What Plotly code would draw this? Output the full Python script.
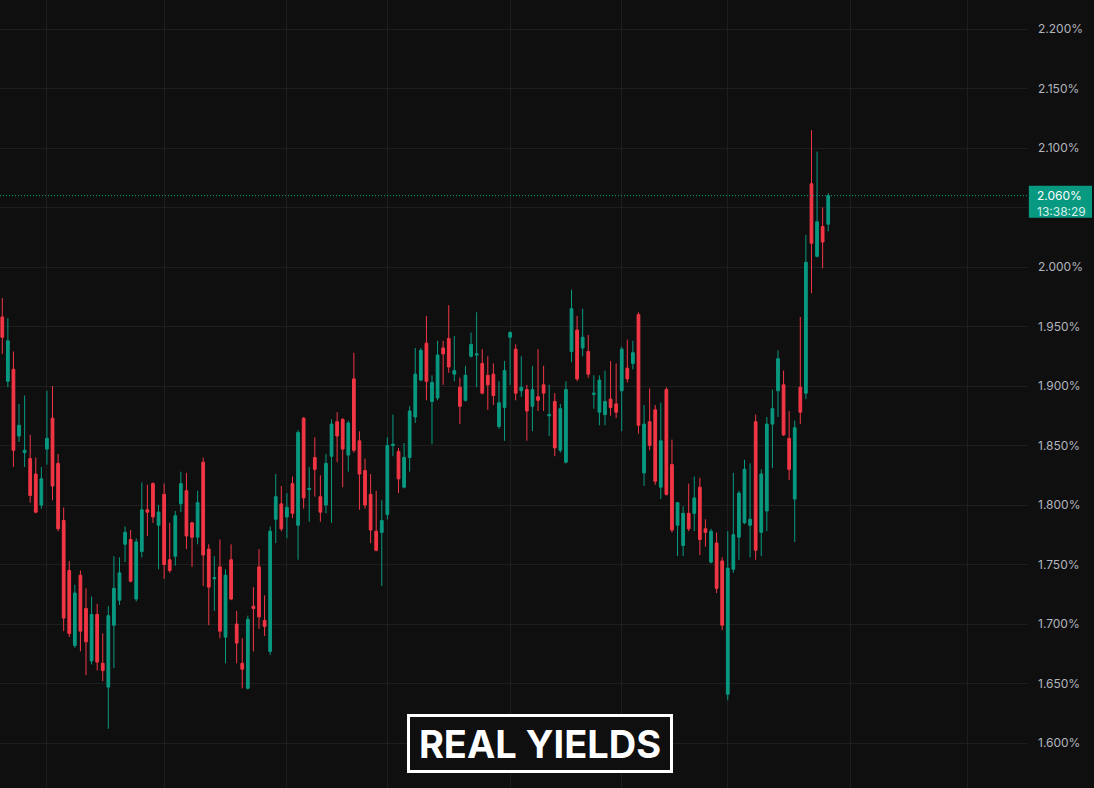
import plotly.graph_objects as go

opens = [1.958,1.904,1.914,1.858,1.844,1.839,1.826,1.800,1.847,1.873,
         1.835,1.787,1.745,1.682,1.741,1.713,1.669,1.708,1.667,1.647,
         1.699,1.720,1.767,1.771,1.721,1.761,1.796,1.818,1.783,1.809,
         1.754,1.757,1.801,1.812,1.785,1.773,1.836,1.763,1.738,1.748,
         1.689,1.754,1.700,1.667,1.646,1.715,1.748,1.703,1.677,1.788,
         1.801,1.790,1.818,1.783,1.873,1.813,1.840,1.807,1.800,1.841,
         1.870,1.872,1.842,1.906,1.854,1.829,1.809,1.778,1.777,1.792,
         1.850,1.845,1.815,1.840,1.874,1.905,1.936,1.887,1.890,1.932,
         1.940,1.910,1.899,1.888,1.925,1.926,1.919,1.909,1.910,1.866,
         1.882,1.941,1.931,1.896,1.897,1.883,1.891,1.901,1.875,1.887,
         1.846,1.836,1.929,1.947,1.932,1.929,1.893,1.878,1.876,1.889,
         1.885,1.896,1.915,1.919,1.960,1.827,1.870,1.880,1.815,1.897,
         1.834,1.783,1.766,1.793,1.793,1.815,1.780,1.752,1.768,1.753,
         1.641,1.746,1.773,1.785,1.783,1.870,1.777,1.795,1.868,1.896,
         1.901,1.856,1.805,1.899,1.894,2.070,2.009,2.034,2.036]
highs = [1.974,1.957,1.929,1.885,1.892,1.859,1.840,1.832,1.896,1.900,
         1.843,1.798,1.753,1.733,1.745,1.730,1.723,1.717,1.692,1.715,
         1.757,1.756,1.782,1.779,1.772,1.819,1.817,1.819,1.800,1.818,
         1.785,1.795,1.828,1.827,1.786,1.812,1.840,1.767,1.757,1.771,
         1.746,1.767,1.711,1.688,1.707,1.731,1.763,1.724,1.782,1.826,
         1.816,1.810,1.824,1.863,1.874,1.832,1.857,1.825,1.843,1.872,
         1.878,1.873,1.871,1.928,1.862,1.839,1.826,1.812,1.804,1.857,
         1.876,1.848,1.852,1.883,1.932,1.932,1.959,1.909,1.938,1.938,
         1.968,1.942,1.907,1.917,1.945,1.962,1.931,1.925,1.919,1.904,
         1.921,1.946,1.935,1.925,1.901,1.917,1.931,1.917,1.901,1.894,
         1.885,1.904,1.981,1.959,1.965,1.943,1.909,1.909,1.913,1.921,
         1.919,1.933,1.939,1.938,1.962,1.884,1.898,1.884,1.886,1.899,
         1.855,1.802,1.799,1.818,1.824,1.823,1.788,1.780,1.777,1.756,
         1.778,1.827,1.812,1.838,1.835,1.876,1.830,1.874,1.897,1.930,
         1.913,1.879,1.871,1.958,2.027,2.115,2.097,2.050,2.062]
lows = [1.927,1.899,1.832,1.853,1.832,1.802,1.793,1.797,1.834,1.804,
        1.778,1.694,1.689,1.680,1.677,1.657,1.666,1.661,1.652,1.612,
        1.663,1.716,1.752,1.735,1.719,1.756,1.774,1.785,1.746,1.738,
        1.743,1.749,1.794,1.763,1.748,1.767,1.732,1.699,1.711,1.688,
        1.667,1.720,1.667,1.646,1.645,1.677,1.696,1.690,1.674,1.768,
        1.778,1.772,1.789,1.754,1.797,1.786,1.807,1.786,1.793,1.785,
        1.836,1.815,1.828,1.844,1.796,1.797,1.768,1.761,1.732,1.788,
        1.841,1.810,1.814,1.828,1.869,1.904,1.888,1.851,1.888,1.901,
        1.911,1.904,1.868,1.887,1.924,1.899,1.893,1.880,1.884,1.864,
        1.854,1.901,1.888,1.891,1.854,1.862,1.879,1.879,1.858,1.841,
        1.844,1.835,1.920,1.904,1.925,1.907,1.881,1.867,1.867,1.875,
        1.873,1.862,1.903,1.914,1.860,1.816,1.846,1.817,1.805,1.808,
        1.777,1.757,1.757,1.778,1.778,1.758,1.765,1.751,1.726,1.695,
        1.636,1.743,1.754,1.784,1.756,1.754,1.757,1.778,1.831,1.874,
        1.858,1.821,1.769,1.868,1.889,1.978,2.008,1.999,2.030]
closes = [1.941,1.938,1.846,1.867,1.846,1.808,1.794,1.822,1.856,1.816,
          1.780,1.705,1.692,1.726,1.694,1.685,1.708,1.668,1.661,1.707,
          1.730,1.743,1.777,1.736,1.769,1.796,1.794,1.790,1.794,1.750,
          1.745,1.791,1.818,1.774,1.773,1.802,1.758,1.731,1.739,1.694,
          1.741,1.721,1.684,1.662,1.704,1.713,1.706,1.698,1.778,1.807,
          1.780,1.798,1.793,1.861,1.806,1.814,1.830,1.794,1.835,1.868,
          1.858,1.847,1.869,1.846,1.826,1.800,1.779,1.762,1.787,1.850,
          1.851,1.822,1.840,1.879,1.910,1.930,1.904,1.903,1.926,1.927,
          1.916,1.913,1.883,1.909,1.935,1.927,1.894,1.901,1.892,1.886,
          1.913,1.945,1.894,1.899,1.879,1.897,1.888,1.894,1.876,1.848,
          1.881,1.897,1.965,1.906,1.941,1.910,1.894,1.905,1.887,1.882,
          1.878,1.931,1.906,1.928,1.867,1.868,1.850,1.820,1.854,1.809,
          1.779,1.802,1.793,1.780,1.806,1.771,1.777,1.778,1.730,1.699,
          1.747,1.775,1.810,1.830,1.788,1.762,1.826,1.868,1.881,1.923,
          1.859,1.830,1.865,1.878,2.004,2.020,2.038,2.021,2.060]

month_starts = [8, 29, 51, 69, 91, 111, 130, 152, 173]
y_ticks = [1.60, 1.65, 1.70, 1.75, 1.80, 1.85, 1.90, 1.95, 2.00, 2.05, 2.10, 2.15, 2.20]
# the 2.050% label sits under the last-price tag, so it is not shown
y_tick_labels = ["1.600%", "1.650%", "1.700%", "1.750%", "1.800%", "1.850%", "1.900%",
                 "1.950%", "2.000%", "", "2.100%", "2.150%", "2.200%"]
last_time = "13:38:29"
title_text = "REAL YIELDS"

UP = "#089981"
DOWN = "#F23645"
BG = "#0F0F0F"
GRID = "#1E1E1E"

W, H = 1094, 788
R_MARGIN = 66
PLOT_W = W - R_MARGIN
Y_RANGE = [1.5622, 2.2244]
X_RANGE = [-0.41, 183.8]
units_per_px = (Y_RANGE[1] - Y_RANGE[0]) / H

x = list(range(len(opens)))

fig = go.Figure(go.Candlestick(
    x=x, open=opens, high=highs, low=lows, close=closes,
    increasing=dict(line=dict(color=UP, width=1), fillcolor=UP),
    decreasing=dict(line=dict(color=DOWN, width=1), fillcolor=DOWN),
    whiskerwidth=0, showlegend=False, hoverinfo="skip",
))

last = closes[-1]
fig.add_shape(type="line", xref="paper", yref="y", x0=0, x1=1, y0=last, y1=last,
              line=dict(color=UP, width=1, dash="1px,2px"))
fig.add_shape(type="rect", xref="paper", yref="y",
              x0=1.0008, x1=1 + 64 / PLOT_W,
              y0=last - 22 * units_per_px, y1=last + 10 * units_per_px,
              fillcolor=UP, line=dict(width=0), layer="above")
fig.add_annotation(xref="paper", yref="y", x=1 + 8 / PLOT_W, y=last,
                   text=f"{last:.3f}%", showarrow=False, xanchor="left", yanchor="middle",
                   borderpad=0,
                   font=dict(color="#FFFFFF", size=12, family="Inter"))
fig.add_annotation(xref="paper", yref="y", x=1 + 8 / PLOT_W, y=last - 15.5 * units_per_px,
                   text=last_time, showarrow=False, xanchor="left", yanchor="middle",
                   borderpad=0,
                   font=dict(color="#D9F0EB", size=12, family="Inter"))

fig.add_annotation(xref="paper", yref="paper", x=539.5 / PLOT_W, y=1 - 743 / H,
                   text=f"<b>{title_text}</b>", showarrow=False,
                   xanchor="center", yanchor="middle",
                   font=dict(color="#FFFFFF", size=38, family="Inter"),
                   bordercolor="#FFFFFF", borderwidth=3, borderpad=2,
                   width=256, height=49, bgcolor=BG)

fig.update_layout(
    width=W, height=H,
    margin=dict(l=0, r=R_MARGIN, t=0, b=0),
    paper_bgcolor=BG, plot_bgcolor=BG,
    font=dict(family="Inter", color="#B2B5BE", size=12),
    xaxis=dict(range=X_RANGE, rangeslider=dict(visible=False),
               tickvals=month_starts, showticklabels=False, ticks="",
               showgrid=True, gridcolor=GRID, gridwidth=1, zeroline=False,
               showline=False, fixedrange=True),
    yaxis=dict(range=Y_RANGE, side="right", tickvals=y_ticks, ticktext=y_tick_labels,
               ticks="", ticklabelstandoff=9,
               showgrid=True, gridcolor=GRID, gridwidth=1, zeroline=False,
               showline=False, tickfont=dict(color="#B2B5BE", size=12, family="Inter"),
               fixedrange=True),
)

fig.write_html("out.html", config={"displayModeBar": False, "staticPlot": True},
               post_script="document.body.style.margin='0';document.body.style.background='#0F0F0F';")
